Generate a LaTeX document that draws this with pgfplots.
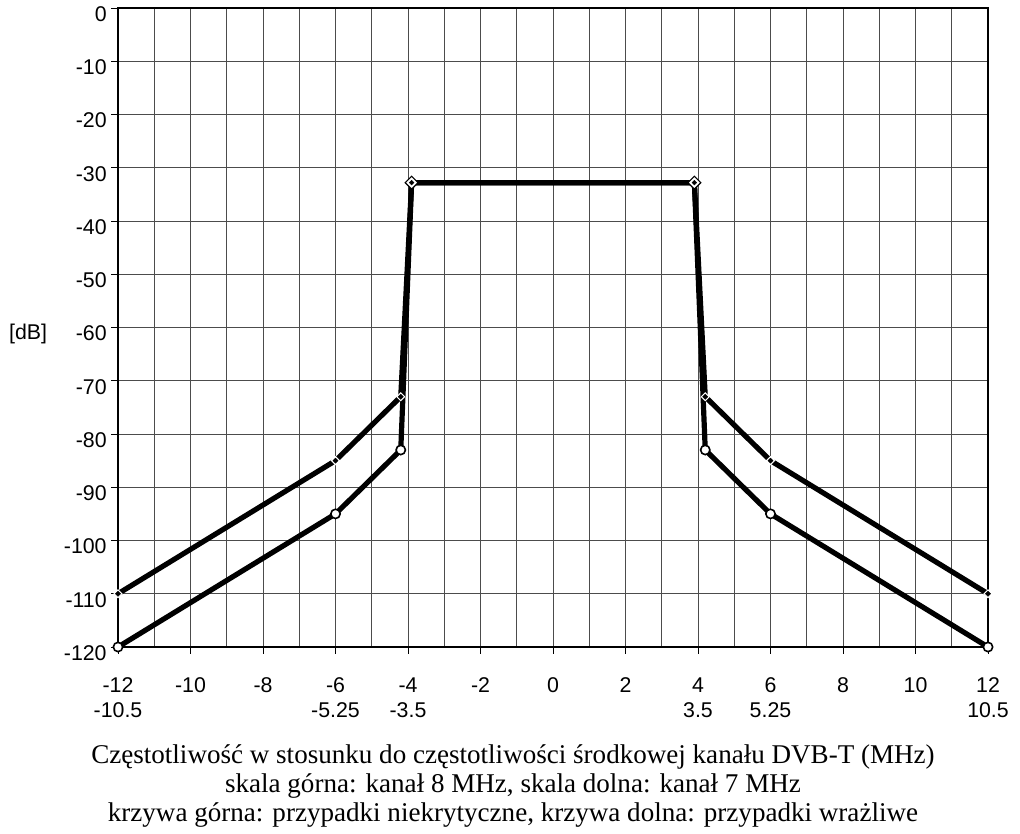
\documentclass[border=0pt]{standalone}
\usepackage{pgfplots}
\pgfplotsset{compat=1.18}
\usepackage{fontspec}
\setmainfont{Liberation Serif}
\newfontfamily\arialf{Liberation Sans}

\begin{document}
\begin{tikzpicture}
\begin{axis}[
  scale only axis, width=652.5pt, height=479.25pt,
  xmin=-12, xmax=12, ymin=-120, ymax=0,
  clip=false,
  xtick={-12,-10,...,12},
  xticklabels={{-12\\-10.5},-10,-8,{-6\\-5.25},{-4\\-3.5},-2,0,2,{4\\3.5},{6\\5.25},8,10,{12\\10.5}},
  minor x tick num=1,
  ytick={-120,-110,...,0},
  yticklabels={-120,-110,-100,-90,-80,-70,-60,-50,-40,-30,-20,-10,0},
  grid=both,
  grid style={black!70, line width=0.7pt},
  minor grid style={black!70, line width=0.7pt},
  axis line style={black, line width=0.8pt},
  tick align=outside, major tick length=5pt, minor tick length=0pt,
  tick pos=left,
  tick style={black, line width=0.7pt},
  ticklabel style={font=\arialf\fontsize{16}{18.5}\selectfont},
  xticklabel style={align=center, yshift=-14.5pt},
  yticklabel style={yshift=-4.5pt},
  ylabel={[dB]},
  ylabel style={rotate=-90, font=\arialf\fontsize{16}{17}\selectfont,
    at={(axis description cs:-0.1034,0.5)}, anchor=center, yshift=-4.5pt},
  xlabel={Częstotliwość w stosunku do częstotliwości środkowej kanału DVB-T (MHz)\\skala górna: kanał 8 MHz, skala dolna: kanał 7 MHz\\krzywa górna: przypadki niekrytyczne, krzywa dolna: przypadki wrażliwe},
  xlabel style={align=center, font=\fontsize{20.3}{21.75}\selectfont,
    at={(axis description cs:0.454,0)}, anchor=base, yshift=-131pt},
]
\addplot[black, line width=3.9pt] coordinates {(-12,-110) (-6,-85) (-4.2,-73) (-3.9,-32.8) (3.9,-32.8) (4.2,-73) (6,-85) (12,-110)};
\addplot[black, line width=3.9pt] coordinates {(-12,-120) (-6,-95) (-4.2,-83) (-3.9,-32.8) (3.9,-32.8) (4.2,-83) (6,-95) (12,-120)};
\addplot[only marks, mark=*, mark size=3.5pt, mark options={fill=white, draw=black, line width=1.2pt}] coordinates {(-12,-120) (-6,-95) (-4.2,-83) (4.2,-83) (6,-95) (12,-120)};
\addplot[only marks, mark=square*, mark size=1.4pt, mark options={rotate=45, fill=black, draw=white, line width=2.2pt}] coordinates {(-12,-110) (-6,-85) (-4.2,-73) (4.2,-73) (6,-85) (12,-110)};
\addplot[only marks, mark=square*, mark size=1.4pt, mark options={rotate=45, fill=black, draw=black, line width=0.2pt}] coordinates {(-12,-110) (-6,-85) (-4.2,-73) (4.2,-73) (6,-85) (12,-110)};
\addplot[only marks, mark=square*, mark size=3.4pt, mark options={rotate=45, fill=white, draw=black, line width=0.9pt}] coordinates {(-3.9,-32.8) (3.9,-32.8)};
\addplot[only marks, mark=square*, mark size=1.3pt, mark options={rotate=45, fill=black, draw=black, line width=0.2pt}] coordinates {(-3.9,-32.8) (3.9,-32.8)};
\end{axis}
\pgfresetboundingbox
\path ([shift={(-88.5pt,-140.25pt)}]current axis.south west) rectangle ([shift={(24pt,6pt)}]current axis.north east);
\end{tikzpicture}
\end{document}
